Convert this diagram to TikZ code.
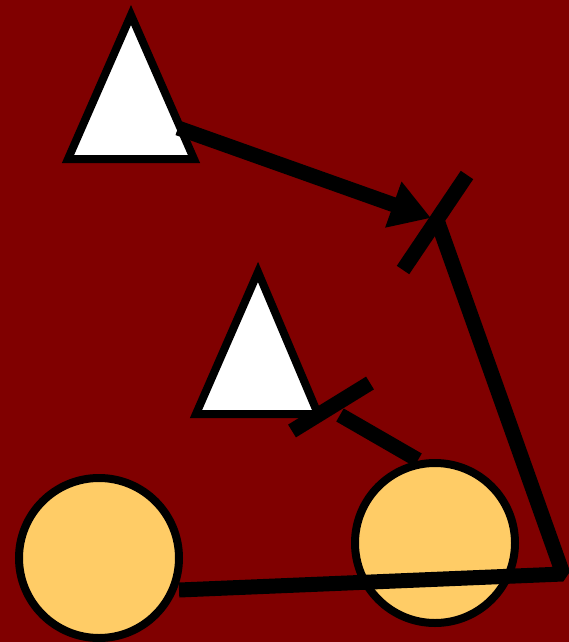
\documentclass[tikz,border=0pt]{standalone}
\usetikzlibrary{arrows.meta}
\definecolor{bgred}{HTML}{800000}
\definecolor{disc}{HTML}{FFCC66}
\tikzset{
  tri/.style={draw=black, fill=white, line width=8pt, line join=miter},
  blob/.style={circle, draw=black, fill=disc, line width=8pt, minimum size=160pt, inner sep=0pt},
  link/.style={draw=black, line width=15pt, line cap=butt},
}
\begin{document}
\begin{tikzpicture}[x=1pt,y=-1pt]
\fill[bgred] (0,0) rectangle (569,642);
\useasboundingbox (0,0) rectangle (569,642);
% triangles
\draw[tri] (68,159) -- (131,15) -- (194,159) -- cycle;
\draw[tri] (196,414) -- (258,272) -- (318,414) -- cycle;
% circles
\node[blob] (c1) at (99,558) {};
\node[blob] (c2) at (435,543) {};
% named points
\coordinate (a1) at (178,128);
\coordinate (a2) at (431,218);
\coordinate (b1) at (403,270);
\coordinate (b2) at (467,175);
\coordinate (p1) at (437,220);
\coordinate (corner) at (563,574);
\coordinate (p3) at (179,590);
\coordinate (d1) at (292,431);
\coordinate (d2) at (370,383);
\coordinate (e1) at (340,415);
\coordinate (e2) at (418,460);
% connectors
\draw[link, -{Triangle[length=40pt,width=46pt]}] (a1) -- (a2);
\draw[link] (b1) -- (b2);
\draw[link, line join=bevel] (p1) -- (corner) -- (p3);
\draw[link] (d1) -- (d2);
\draw[link] (e1) -- (e2);
\end{tikzpicture}
\end{document}
